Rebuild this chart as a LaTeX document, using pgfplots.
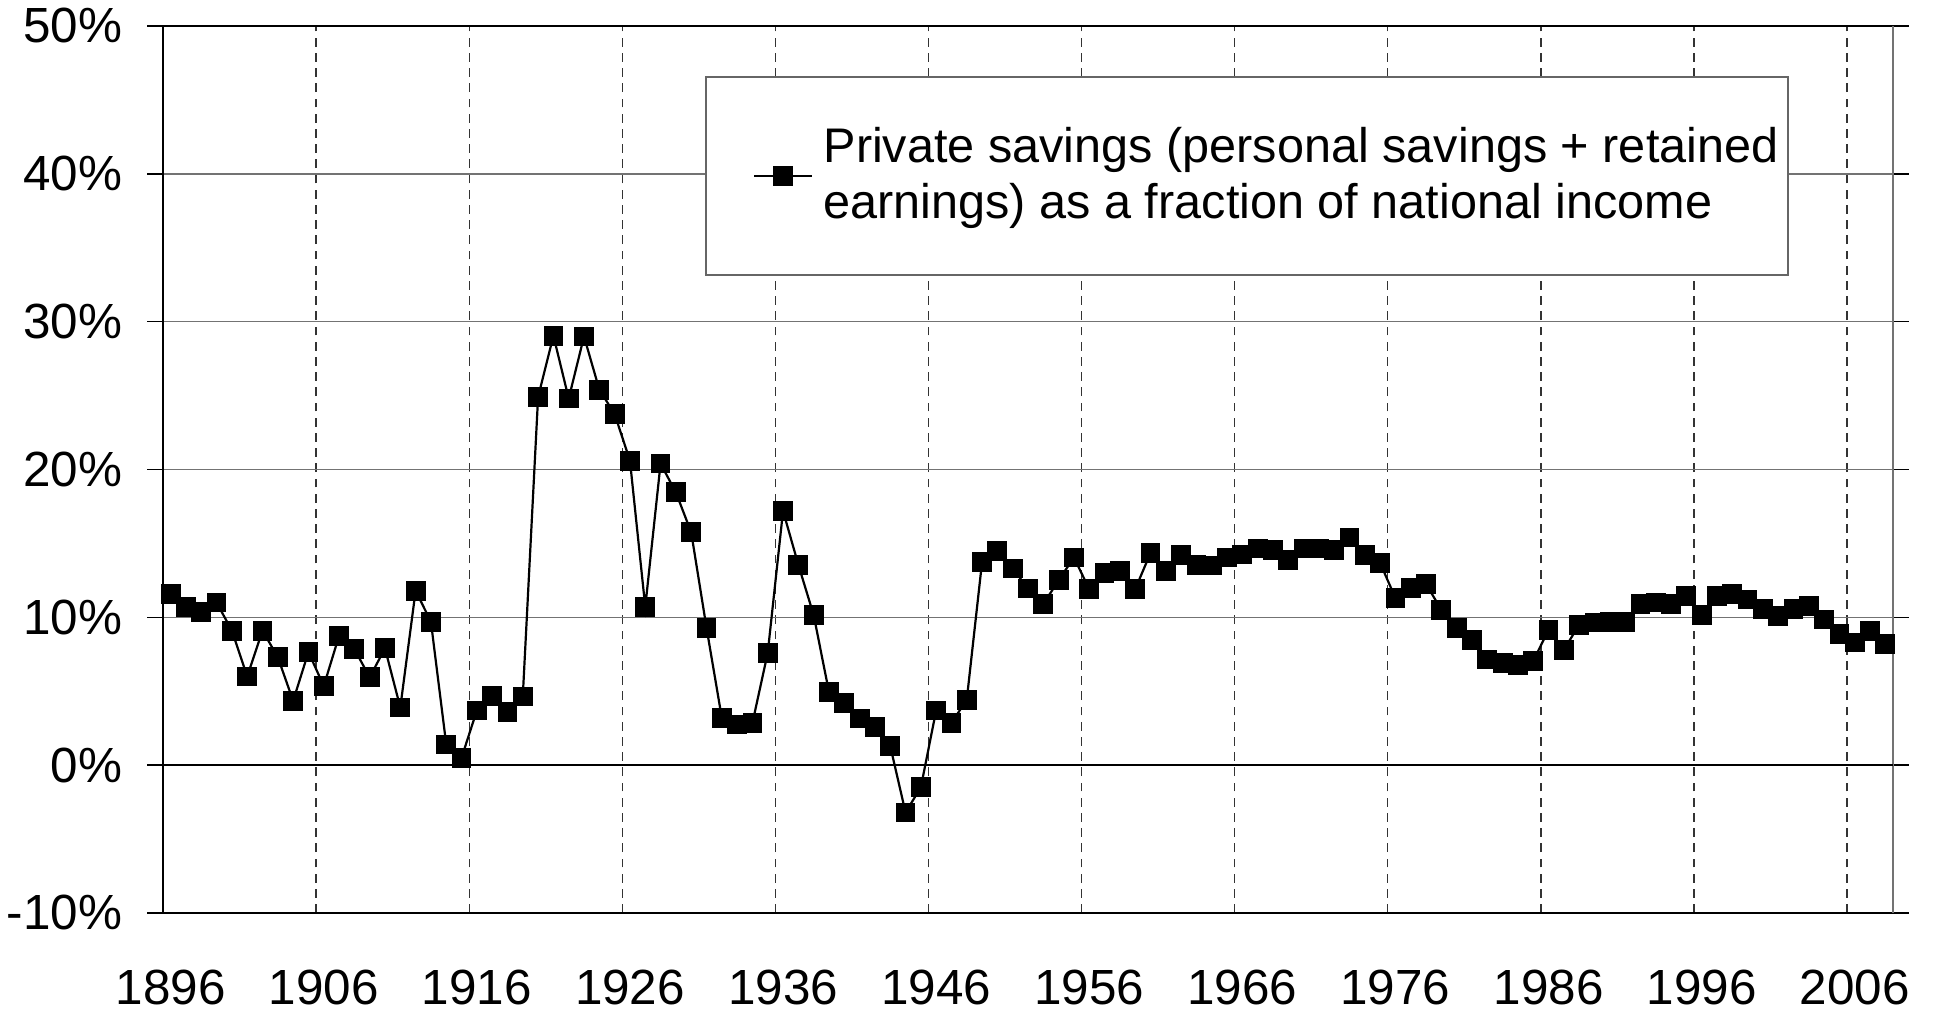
\documentclass[border=0pt]{standalone}
\usepackage{pgfplots}
\pgfplotsset{compat=1.18}
\usepackage{pgfplotstable}
\usepackage{fontspec}
\setmainfont{Liberation Sans}

\pgfplotstableread{
year val
1896 11.6
1897 10.7
1898 10.35
1899 11.0
1900 9.1
1901 6.0
1902 9.1
1903 7.3
1904 4.35
1905 7.65
1906 5.35
1907 8.75
1908 7.85
1909 5.95
1910 7.9
1911 3.9
1912 11.8
1913 9.7
1914 1.4
1915 0.5
1916 3.7
1917 4.7
1918 3.6
1919 4.65
1920 24.9
1921 29.05
1922 24.8
1923 29.0
1924 25.4
1925 23.75
1926 20.6
1927 10.7
1928 20.4
1929 18.45
1930 15.75
1931 9.3
1932 3.2
1933 2.75
1934 2.85
1935 7.6
1936 17.2
1937 13.55
1938 10.15
1939 4.95
1940 4.2
1941 3.15
1942 2.6
1943 1.3
1944 -3.2
1945 -1.5
1946 3.7
1947 2.85
1948 4.43
1949 13.75
1950 14.5
1951 13.3
1952 11.95
1953 10.9
1954 12.5
1955 14.05
1956 11.9
1957 13.0
1958 13.15
1959 11.9
1960 14.35
1961 13.15
1962 14.2
1963 13.55
1964 13.5
1965 14.05
1966 14.25
1967 14.65
1968 14.55
1969 13.9
1970 14.65
1971 14.65
1972 14.55
1973 15.4
1974 14.2
1975 13.67
1976 11.3
1977 12.0
1978 12.25
1979 10.5
1980 9.3
1981 8.45
1982 7.15
1983 6.9
1984 6.8
1985 7.05
1986 9.15
1987 7.8
1988 9.5
1989 9.65
1990 9.7
1991 9.7
1992 10.9
1993 11.0
1994 10.9
1995 11.45
1996 10.15
1997 11.45
1998 11.6
1999 11.2
2000 10.55
2001 10.1
2002 10.55
2003 10.75
2004 9.85
2005 8.85
2006 8.3
2007 9.1
2008 8.2
}\savings

\begin{document}
\begin{tikzpicture}
\useasboundingbox (-40.75pt,-25.25pt) rectangle (443pt,228.25pt);
\begin{axis}[
  scale only axis,
  width=432.5pt, height=221.75pt,
  at={(0pt,0pt)}, anchor=south west,
  xmin=1895.5, xmax=2008.5,
  ymin=-10, ymax=50,
  separate axis lines,
  every outer x axis line/.append style={black, line width=0.5pt},
  every outer y axis line/.append style={black!55, line width=0.5pt},
  xtick={1896,1906,1916,1926,1936,1946,1956,1966,1976,1986,1996,2006},
  xticklabels={1896,1906,1916,1926,1936,1946,1956,1966,1976,1986,1996,2006},
  minor xtick={1905.5,1915.5,1925.5,1935.5,1945.5,1955.5,1965.5,1975.5,1985.5,1995.5,2005.5},
  xminorgrids=true,
  minor x grid style={black!80, line width=0.35pt, dash pattern=on 2.2pt off 1.6pt},
  x tick style={draw=none},
  minor x tick style={draw=none},
  ytick={-10,0,10,20,30,40,50},
  yticklabels={-10\%,0\%,10\%,20\%,30\%,40\%,50\%},
  ymajorgrids=true,
  major y grid style={black!55, line width=0.4pt},
  y tick style={black, line width=0.4pt},
  tick align=inside,
  major tick length=-3.9pt,
  extra y ticks={0},
  extra y tick labels={},
  extra y tick style={major y grid style={black, line width=0.45pt}, y tick style={draw=none}},
  extra x ticks={1895.5},
  extra x tick labels={},
  extra x tick style={xmajorgrids=true, major x grid style={black, line width=0.5pt}},
  tick label style={font=\fontsize{12.35pt}{14pt}\selectfont},
  xticklabel style={anchor=north, inner sep=0pt, yshift=-14pt},
  yticklabel style={anchor=east, inner sep=0pt, xshift=-10pt},
  legend style={
    at={(rel axis cs:0.3133,0.944)}, anchor=north west,
    draw=black!60, line width=0.5pt,
    inner xsep=2.25pt, inner ysep=12.75pt,
    nodes={inner sep=0pt},
    column sep=2.6pt,
    cells={align=left},
    font=\fontsize{12.15pt}{13.9pt}\selectfont,
  },
  legend image code/.code={
    \path (0pt,0pt);
    \draw[#1, mark repeat=2, mark phase=2] plot coordinates {(9.5pt,0pt) (16.75pt,0pt) (24pt,0pt)};
  },
]
\addplot[black, line width=0.55pt, mark=square*, mark size=2.2pt, mark options={solid}]
  table[x=year, y=val] {\savings};
\addlegendentry{Private savings (personal savings + retained\\earnings) as a fraction of national income}
\end{axis}
\end{tikzpicture}
\end{document}
